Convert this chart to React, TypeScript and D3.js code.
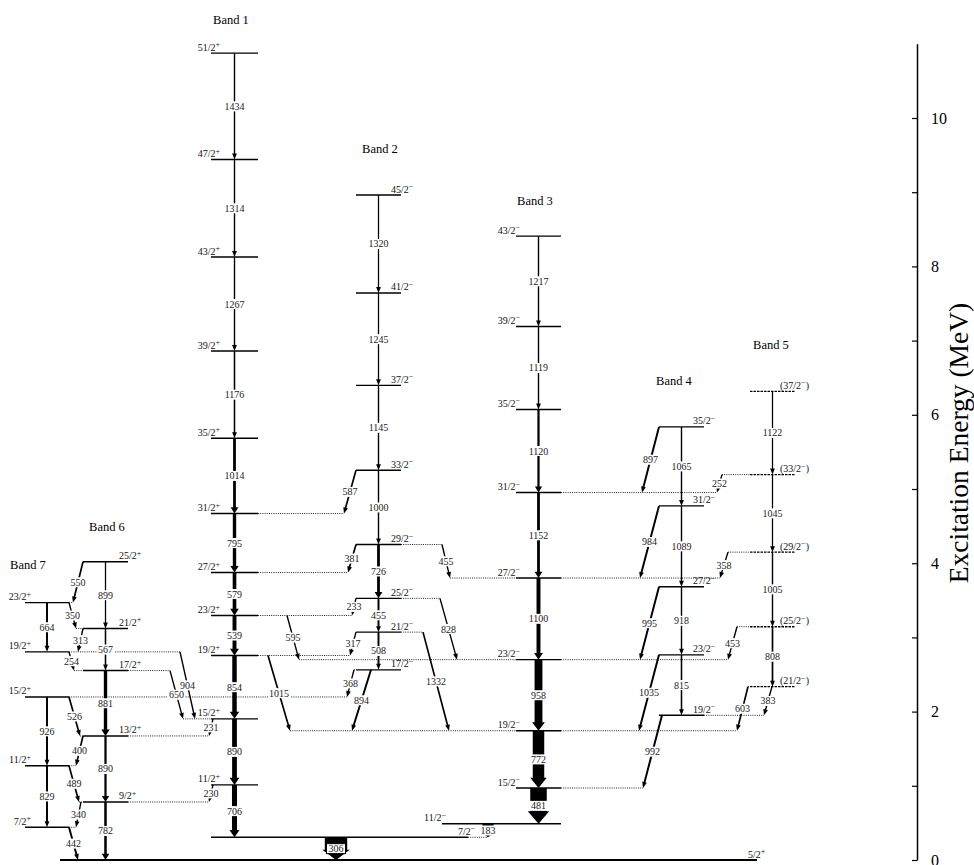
import React, { useEffect, useRef } from 'react';
import * as d3 from 'd3';

const W = 974;
const H = 865;
const FONT = '"Liberation Serif", "Times New Roman", Times, serif';

// level energies in keV: [spin, energy]
const groundLevels: [string, string, number][] = [
  ['gs', '5/2+', 0],
  ['L306', '7/2-', 306],
];
const band1Levels: [string, number][] = [
  ['11/2+', 1012], ['15/2+', 1902], ['19/2+', 2756], ['23/2+', 3295], ['27/2+', 3874], ['31/2+', 4669],
  ['35/2+', 5683], ['39/2+', 6859], ['43/2+', 8126], ['47/2+', 9440], ['51/2+', 10874],
];
const band2Levels: [string, number][] = [
  ['17/2-', 2563], ['21/2-', 3071], ['25/2-', 3526], ['29/2-', 4252], ['33/2-', 5252],
  ['37/2-', 6397], ['41/2-', 7642], ['45/2-', 8962],
];
const band3Levels: [string, number][] = [
  ['11/2-', 489], ['15/2-', 970], ['19/2-', 1742], ['23/2-', 2700], ['27/2-', 3800],
  ['31/2-', 4952], ['35/2-', 6072], ['39/2-', 7191], ['43/2-', 8408],
];
const band4Levels: [string, number][] = [
  ['19/2-', 1950], ['23/2-', 2765], ['27/2-', 3683], ['31/2-', 4772], ['35/2-', 5837],
];
const band5Levels: [string, number][] = [
  ['(21/2-)', 2336], ['(25/2-)', 3144], ['(29/2-)', 4149], ['(33/2-)', 5194], ['(37/2-)', 6316],
];
const band6Levels: [string, number][] = [
  ['9/2+', 782], ['13/2+', 1672], ['17/2+', 2553], ['21/2+', 3120], ['25/2+', 4019],
];
const band7Levels: [string, number][] = [
  ['7/2+', 442], ['11/2+', 1271], ['15/2+', 2197], ['19/2+', 2805], ['23/2+', 3469],
];

// gamma rays: [from, to, energy label, relative intensity]
const inBandGammas: [string, string, string, number][] = [
  ['b1_51', 'b1_47', '1434', 5], ['b1_47', 'b1_43', '1314', 5], ['b1_43', 'b1_39', '1267', 5],
  ['b1_39', 'b1_35', '1176', 5.5], ['b1_35', 'b1_31', '1014', 10], ['b1_31', 'b1_27', '795', 12],
  ['b1_27', 'b1_23', '579', 13], ['b1_23', 'b1_19', '539', 14], ['b1_19', 'b1_15', '854', 16],
  ['b1_15', 'b1_11', '890', 17], ['b1_11', 'L306', '706', 18],
  ['b2_45', 'b2_41', '1320', 4.5], ['b2_41', 'b2_37', '1245', 4.5], ['b2_37', 'b2_33', '1145', 5],
  ['b2_33', 'b2_29', '1000', 5], ['b2_29', 'b2_25', '726', 10], ['b2_25', 'b2_21', '455', 7],
  ['b2_21', 'b2_17', '508', 7],
  ['b3_43', 'b3_39', '1217', 5], ['b3_39', 'b3_35', '1119', 5], ['b3_35', 'b3_31', '1120', 8],
  ['b3_31', 'b3_27', '1152', 10], ['b3_27', 'b3_23', '1100', 14], ['b3_23', 'b3_19', '958', 28],
  ['b3_19', 'b3_15', '772', 41], ['b3_15', 'b3_11', '481', 59],
  ['b4_35', 'b4_31', '1065', 5], ['b4_31', 'b4_27', '1089', 5], ['b4_27', 'b4_23', '918', 5],
  ['b4_23', 'b4_19', '815', 5.5],
  ['b5_37', 'b5_33', '1122', 4.5], ['b5_33', 'b5_29', '1045', 4.5], ['b5_29', 'b5_25', '1005', 5],
  ['b5_25', 'b5_21', '808', 6],
  ['b6_25', 'b6_21', '899', 4.5], ['b6_21', 'b6_17', '567', 5.5], ['b6_17', 'b6_13', '881', 12],
  ['b6_13', 'b6_9', '890', 8], ['b6_9', 'gs', '782', 9],
  ['b7_23', 'b7_19', '664', 7], ['b7_15', 'b7_11', '926', 7], ['b7_11', 'b7_7', '829', 7],
];
const linkingGammas: [string, string, string, number][] = [
  ['L306', 'gs', '306', 80], ['b3_11', 'L306', '183', 40],
  ['b7_7', 'gs', '442', 7], ['b6_9', 'b7_7', '340', 5], ['b7_11', 'b6_9', '489', 6],
  ['b6_13', 'b7_11', '400', 6], ['b7_15', 'b6_13', '526', 6], ['b7_19', 'b6_17', '254', 5],
  ['b6_21', 'b7_19', '313', 5], ['b7_23', 'b6_21', '350', 5], ['b6_25', 'b7_23', '550', 6],
  ['b6_17', 'b1_15', '650', 5], ['b7_19', 'b1_15', '904', 5], ['b1_15', 'b6_13', '231', 5],
  ['b1_11', 'b6_9', '230', 5], ['b1_23', 'b3_23', '595', 5], ['b1_19', 'b3_19', '1015', 6],
  ['b2_33', 'b1_31', '587', 6], ['b2_29', 'b1_27', '381', 6], ['b2_29', 'b3_27', '455', 5],
  ['b2_25', 'b1_23', '233', 5], ['b2_25', 'b3_23', '828', 5], ['b2_21', 'b1_19', '317', 5],
  ['b2_21', 'b3_19', '1332', 6], ['b2_17', 'b7_15', '368', 5], ['b2_17', 'b3_19', '894', 7],
  ['b4_35', 'b3_31', '897', 7], ['b4_31', 'b3_27', '984', 7], ['b4_27', 'b3_23', '995', 7],
  ['b4_23', 'b3_19', '1035', 7], ['b4_19', 'b3_15', '992', 7],
  ['b5_33', 'b3_31', '252', 5], ['b5_29', 'b3_27', '358', 5], ['b5_25', 'b3_23', '453', 5],
  ['b5_21', 'b3_19', '603', 6], ['b5_21', 'b4_19', '383', 5],
];

const energyTicks = [0, 1, 2, 3, 4, 5, 6, 7, 8, 9, 10];
const energyLabels = [0, 2, 4, 6, 8, 10];

// layout of the columns
const bandLayout: Record<string, { name: string; x0: number; x1: number; side: string; ldx: number; title: [number, number]; dashed?: boolean }> = {
  b1: { name: 'Band 1', x0: 211, x1: 258, side: 'left', ldx: 9, title: [231, 24] },
  b2: { name: 'Band 2', x0: 356, x1: 401, side: 'right', ldx: -10, title: [380, 153] },
  b3: { name: 'Band 3', x0: 516, x1: 561, side: 'left', ldx: 4, title: [535, 205] },
  b4: { name: 'Band 4', x0: 659, x1: 704, side: 'right', ldx: -11, title: [674, 385] },
  b5: { name: 'Band 5', x0: 750, x1: 795, side: 'right', ldx: -15, title: [771, 349], dashed: true },
  b6: { name: 'Band 6', x0: 83, x1: 128, side: 'right', ldx: -9, title: [107, 531] },
  b7: { name: 'Band 7', x0: 25, x1: 69, side: 'left', ldx: 6, title: [28, 569] },
};
const levelOverrides: Record<string, { x0: number; x1: number; side: string; ldx: number }> = {
  gs: { x0: 60, x1: 757, side: 'right', ldx: -9 },
  L306: { x0: 211, x1: 468, side: 'right', ldx: -10 },
  b3_11: { x0: 442, x1: 561, side: 'left', ldx: 4 },
};
// start / end x of the non-vertical (or off-centre) gammas
const gammaPath: Record<string, [number, number]> = {
  'L306>gs': [336, 336], 'b3_11>L306': [488, 488],
  'b7_7>gs': [69, 78], 'b6_9>b7_7': [81, 76], 'b7_11>b6_9': [69, 79], 'b6_13>b7_11': [83, 76],
  'b7_15>b6_13': [69, 80], 'b7_19>b6_17': [69, 74], 'b6_21>b7_19': [83, 78], 'b7_23>b6_21': [69, 76],
  'b6_25>b7_23': [83, 73], 'b6_17>b1_15': [170, 183], 'b7_19>b1_15': [180, 195], 'b1_15>b6_13': [213, 209],
  'b1_11>b6_9': [213, 209], 'b1_23>b3_23': [287, 299], 'b1_19>b3_19': [268, 290],
  'b2_33>b1_31': [356, 344], 'b2_29>b1_27': [356, 348], 'b2_29>b3_27': [442, 450], 'b2_25>b1_23': [356, 352],
  'b2_25>b3_23': [440, 457], 'b2_21>b1_19': [356, 350], 'b2_21>b3_19': [423, 449], 'b2_17>b7_15': [354, 347],
  'b2_17>b3_19': [371, 352],
  'b4_35>b3_31': [659, 642], 'b4_31>b3_27': [659, 640], 'b4_27>b3_23': [659, 640], 'b4_23>b3_19': [659, 639],
  'b4_19>b3_15': [662, 643],
  'b5_33>b3_31': [722, 717], 'b5_29>b3_27': [728, 720], 'b5_25>b3_23': [737, 728], 'b5_21>b3_19': [748, 737],
  'b5_21>b4_19': [772, 764],
};

function arrowPoints(x1: number, y1: number, x2: number, y2: number, w: number): [number, number][] {
  const dx = x2 - x1, dy = y2 - y1, len = Math.hypot(dx, dy);
  const ux = dx / len, uy = dy / len, nx = -uy, ny = ux;
  const hw = w < 2 ? 2.4 : w / 2 + 2.5;
  const hl = Math.min(w < 2 ? 6 : 5 + w * 0.45, len * 0.45);
  const bx = x2 - ux * hl, by = y2 - uy * hl;
  return [
    [x1 + nx * w / 2, y1 + ny * w / 2],
    [bx + nx * w / 2, by + ny * w / 2],
    [bx + nx * hw, by + ny * hw],
    [x2, y2],
    [bx - nx * hw, by - ny * hw],
    [bx - nx * w / 2, by - ny * w / 2],
    [x1 - nx * w / 2, y1 - ny * w / 2],
  ];
}

function App() {
  const ref = useRef<SVGSVGElement>(null);

  useEffect(() => {
    const svg = d3.select(ref.current);
    svg.selectAll('*').remove();

    const yE = d3.scaleLinear().domain([0, 11000]).range([860, 860 - 11 * 74.2]);
    const widthScale = d3.scaleLinear().domain([0, 80]).range([0, 22.4]);

    // build level table
    type Lvl = { id: string; spin: string; y: number; x0: number; x1: number; side: string; ldx: number; dashed: boolean; lo: number; hi: number };
    const levels: Record<string, Lvl> = {};
    const addLevel = (id: string, spin: string, e: number, lay: any) => {
      const o = levelOverrides[id] || lay;
      levels[id] = { id, spin, y: yE(e), x0: o.x0, x1: o.x1, side: o.side, ldx: o.ldx, dashed: !!lay.dashed, lo: o.x0, hi: o.x1 };
    };
    groundLevels.forEach(([id, s, e]) => addLevel(id, s, e, levelOverrides[id]));
    const bandData: [string, [string, number][]][] = [
      ['b1', band1Levels], ['b2', band2Levels], ['b3', band3Levels], ['b4', band4Levels],
      ['b5', band5Levels], ['b6', band6Levels], ['b7', band7Levels],
    ];
    bandData.forEach(([key, arr]) => {
      arr.forEach(([s, e]) => {
        const id = `${key}_${(s.match(/\d+/) as RegExpMatchArray)[0]}`;
        addLevel(id, s, e, bandLayout[key]);
      });
    });

    // gamma geometry
    const gammas = [...inBandGammas, ...linkingGammas].map(([from, to, label, inten]) => {
      const a = levels[from], b = levels[to];
      const key = `${from}>${to}`;
      const cx = (a.x0 + a.x1) / 2;
      const [xs, xe] = gammaPath[key] || [cx, cx];
      a.lo = Math.min(a.lo, xs); a.hi = Math.max(a.hi, xs);
      b.lo = Math.min(b.lo, xe); b.hi = Math.max(b.hi, xe);
      return { label, w: Math.max(1.2, widthScale(inten)), x1: xs, y1: a.y, x2: xe, y2: b.y };
    });

    const lvls = Object.values(levels);

    // dotted extensions
    const ext = svg.append('g').attr('stroke', '#222').attr('stroke-width', 1).attr('stroke-dasharray', '1,1.2');
    lvls.forEach((l) => {
      if (l.lo < l.x0) ext.append('line').attr('x1', l.lo).attr('x2', l.x0).attr('y1', l.y).attr('y2', l.y);
      if (l.hi > l.x1) ext.append('line').attr('x1', l.x1).attr('x2', l.hi).attr('y1', l.y).attr('y2', l.y);
    });

    // level lines
    svg.append('g')
      .selectAll('line')
      .data(lvls)
      .enter()
      .append('line')
      .attr('x1', (d) => d.x0)
      .attr('x2', (d) => d.x1)
      .attr('y1', (d) => d.y)
      .attr('y2', (d) => d.y)
      .attr('stroke', '#000')
      .attr('stroke-width', (d) => (d.id === 'gs' ? 1.8 : 1.4))
      .attr('stroke-dasharray', (d) => (d.dashed ? '2.5,1' : null));

    // gamma arrows
    const line = d3.line();
    svg.append('g')
      .selectAll('path')
      .data(gammas)
      .enter()
      .append('path')
      .attr('d', (d) => line(arrowPoints(d.x1, d.y1, d.x2, d.y2, d.w)) + 'Z')
      .attr('fill', '#000');

    // gamma labels, on a white patch
    const gl = svg.append('g').attr('font-family', FONT).attr('font-size', 10);
    gammas.forEach((g) => {
      const mx = (g.x1 + g.x2) / 2;
      const my = (g.y1 + g.y2) / 2;
      const tw = g.label.length * 5 + 2;
      const boxed = g.label === '306';
      gl.append('rect')
        .attr('x', mx - tw / 2 - (boxed ? 1 : 0))
        .attr('y', my - 5)
        .attr('width', tw + (boxed ? 2 : 0))
        .attr('height', 10)
        .attr('fill', '#fff')
        .attr('stroke', boxed ? '#000' : 'none')
        .attr('stroke-width', 1);
      gl.append('text')
        .attr('x', mx)
        .attr('y', my + 3.5)
        .attr('text-anchor', 'middle')
        .attr('fill', '#222')
        .text(g.label);
    });

    // spin labels
    const sl = svg.append('g').attr('font-family', FONT).attr('font-size', 10).attr('fill', '#111');
    lvls.forEach((l) => {
      const m = l.spin.match(/^(\(?)(\d+\/2)([+-])(\)?)$/) as RegExpMatchArray;
      const t = sl.append('text')
        .attr('x', l.side === 'left' ? l.x0 + l.ldx : l.x1 + l.ldx)
        .attr('y', l.y - 2.5)
        .attr('text-anchor', l.side === 'left' ? 'end' : 'start');
      t.append('tspan').text(m[1] + m[2]);
      t.append('tspan').attr('font-size', 8).attr('dy', -3.5).text(m[3] === '+' ? '+' : '\u2212');
      if (m[4]) t.append('tspan').attr('dy', 3.5).text(m[4]);
    });

    // band titles
    svg.append('g')
      .attr('font-family', FONT)
      .attr('font-size', 12.5)
      .selectAll('text')
      .data(Object.values(bandLayout))
      .enter()
      .append('text')
      .attr('x', (d) => d.title[0])
      .attr('y', (d) => d.title[1])
      .attr('text-anchor', 'middle')
      .text((d) => d.name);

    // energy axis
    const yM = d3.scaleLinear().domain([0, 11]).range([860, 860 - 11 * 74.2]);
    const axis = d3.axisRight(yM)
      .tickValues(energyTicks)
      .tickSizeInner(-5)
      .tickSizeOuter(0)
      .tickPadding(14)
      .tickFormat((d) => (energyLabels.includes(d as number) ? String(d) : ''));
    const ax = svg.append('g').attr('transform', 'translate(917,0)').call(axis);
    ax.select('.domain').attr('stroke-width', 1.5);
    ax.selectAll('.tick line').attr('stroke-width', 1.2);
    ax.selectAll('.tick text').attr('font-family', FONT).attr('font-size', 16).attr('fill', '#000');

    svg.append('text')
      .attr('transform', 'translate(968,443) rotate(-90)')
      .attr('text-anchor', 'middle')
      .attr('font-family', FONT)
      .attr('font-size', 27.5)
      .text('Excitation Energy (MeV)');
  }, []);

  return <svg ref={ref} width={W} height={H} style={{ position: 'absolute', left: 0, top: 0, background: '#fff' }} />;
}

export default App;
